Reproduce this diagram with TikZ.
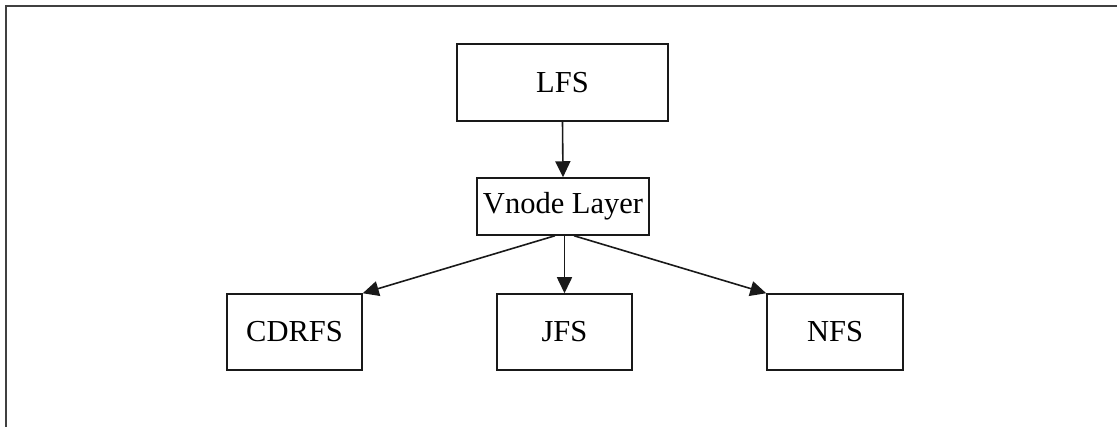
\documentclass[tikz,border=0pt]{standalone}
\usepackage{fontspec}
\setmainfont{Liberation Serif}
\usetikzlibrary{arrows.meta}
\begin{document}
\begin{tikzpicture}[x=1pt,y=-1pt,
  box/.style={draw=black!90, line width=1.5pt, inner sep=0pt, font=\fontsize{30.5}{36}\selectfont},
  conn/.style={draw=black!90, line width=1.6pt, -{Triangle[length=16pt,width=15pt]}},
  frame/.style={draw=black!75, line width=2pt}]
\useasboundingbox (0,0) rectangle (1117,427);
\coordinate (fa) at (6,427);
\coordinate (fb) at (6,6);
\coordinate (fc) at (1117,6);
\draw[frame] (fa) -- (fb) -- (fc);
\node[box, minimum width=211pt, minimum height=77pt] (lfs) at (562.5,82.5) {LFS};
\node[box, minimum width=172pt, minimum height=57pt] (vn) at (563,206.5) {Vnode Layer};
\node[box, minimum width=135pt, minimum height=76pt] (cd) at (294.5,332) {CDRFS};
\node[box, minimum width=135pt, minimum height=76pt] (jfs) at (564.5,332) {JFS};
\node[box, minimum width=136pt, minimum height=76pt] (nfs) at (835,332) {NFS};
\draw[conn] (lfs.south) -- (vn.north);
\draw[conn] ([xshift=-8pt]vn.south) -- (cd.north east);
\draw[conn] ([xshift=1.5pt]vn.south) -- (jfs.north);
\draw[conn] ([xshift=11pt]vn.south) -- (nfs.north west);
\end{tikzpicture}
\end{document}
